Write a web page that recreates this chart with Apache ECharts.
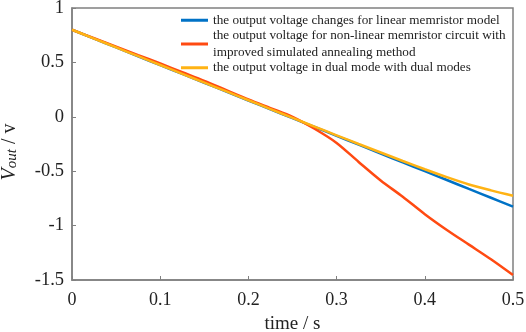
<!DOCTYPE html>
<html>
<head>
<meta charset="utf-8">
<script src="https://cdn.jsdelivr.net/npm/echarts@6/dist/echarts.min.js"></script>
<style>
  html, body { margin: 0; padding: 0; background: #fff; }
  #chart { width: 526px; height: 332px; }
</style>
</head>
<body>
<div id="chart"></div>
<script>
// time axis (s)
const timeS = [0, 0.025, 0.05, 0.075, 0.1, 0.125, 0.15, 0.175, 0.2, 0.225, 0.25,
  0.275, 0.3, 0.325, 0.35, 0.375, 0.4, 0.425, 0.45, 0.475, 0.5];
// linear memristor model
const linearV = [0.8, 0.719, 0.638, 0.556, 0.475, 0.394, 0.313, 0.231, 0.15, 0.069, -0.013,
  -0.094, -0.175, -0.256, -0.338, -0.419, -0.5, -0.581, -0.663, -0.744, -0.825];
// non-linear memristor circuit, improved simulated annealing
const nonLinearV = [0.8, 0.722, 0.645, 0.567, 0.49, 0.41, 0.33, 0.245, 0.16, 0.08, 0.0,
  -0.11, -0.24, -0.415, -0.585, -0.735, -0.895, -1.04, -1.175, -1.31, -1.455];
// dual mode
const dualV = [0.8, 0.719, 0.638, 0.557, 0.476, 0.395, 0.314, 0.233, 0.152, 0.071, -0.01,
  -0.09, -0.17, -0.25, -0.328, -0.406, -0.482, -0.555, -0.622, -0.676, -0.725];

const seriesNames = [
  'the output voltage changes for linear memristor model',
  'the output voltage for non-linear memristor circuit with\nimproved simulated annealing method',
  'the output voltage in dual mode with dual modes'
];
const colors = ['#0072C6', '#FF4A12', '#FFB314'];

const pairs = vals => timeS.map((t, i) => [t, vals[i]]);

const myChart = echarts.init(document.getElementById('chart'));

const axisColor = '#808080';
const font = 'Liberation Serif';

const option = {
  animation: false,
  textStyle: { fontFamily: font },
  grid: {
    left: 72, right: 13, top: 8, bottom: 52,
    outerBoundsMode: 'none',
    containLabel: false,
    show: true, borderColor: axisColor, borderWidth: 1.5
  },
  legend: {
    orient: 'vertical',
    left: 176,
    top: 7,
    itemGap: -1,
    itemWidth: 27,
    itemHeight: 3,
    icon: 'rect',
    textStyle: { fontFamily: font, fontSize: 13.2, color: '#222', lineHeight: 16.5 },
    data: seriesNames
  },
  xAxis: {
    type: 'value',
    min: 0, max: 0.5, interval: 0.1,
    name: 'time / s',
    nameLocation: 'middle',
    nameGap: 35,
    nameTextStyle: { fontFamily: font, fontSize: 19, color: '#222' },
    axisLine: { onZero: false, lineStyle: { color: axisColor, width: 1.5 } },
    axisTick: { inside: true, length: 4, lineStyle: { color: axisColor } },
    axisLabel: { fontFamily: font, fontSize: 18, color: '#222', margin: 11 },
    splitLine: { show: false }
  },
  yAxis: {
    type: 'value',
    min: -1.5, max: 1, interval: 0.5,
    name: '{v|V}{s|out}{n| / v}',
    nameLocation: 'middle',
    nameGap: 52,
    nameRotate: 90,
    nameTextStyle: {
      fontFamily: font, color: '#222',
      padding: [0, 16, 0, 0],
      rich: {
        v: { fontFamily: font, fontSize: 20, fontStyle: 'italic', color: '#222', lineHeight: 26, verticalAlign: 'bottom' },
        s: { fontFamily: font, fontSize: 15, fontStyle: 'italic', color: '#222', lineHeight: 20, verticalAlign: 'bottom' },
        n: { fontFamily: font, fontSize: 20, color: '#222', lineHeight: 26, verticalAlign: 'bottom' }
      }
    },
    axisLine: { onZero: false, lineStyle: { color: axisColor, width: 1.5 } },
    axisTick: { inside: true, length: 4, lineStyle: { color: axisColor } },
    axisLabel: { fontFamily: font, fontSize: 18.5, color: '#222', margin: 8 },
    splitLine: { show: false }
  },
  series: [
    { name: seriesNames[0], data: pairs(linearV) },
    { name: seriesNames[1], data: pairs(nonLinearV) },
    { name: seriesNames[2], data: pairs(dualV) }
  ].map((s, i) => ({
    name: s.name,
    type: 'line',
    data: s.data,
    symbol: 'none',
    smooth: 0.3,
    color: colors[i],
    lineStyle: { width: 2.5, color: colors[i] },
    z: 2 + i
  }))
};
myChart.setOption(option);
</script>
</body>
</html>
